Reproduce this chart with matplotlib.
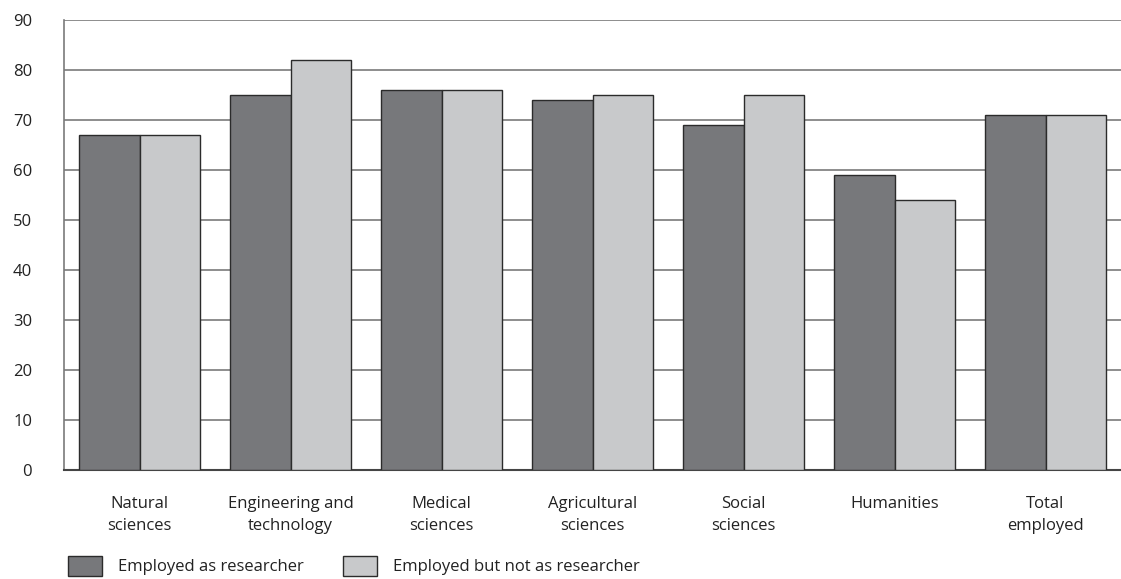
import numpy as np
import matplotlib.pyplot as plt
from matplotlib.patches import Patch

plt.rcParams['font.family'] = ['Open Sans', 'DejaVu Sans']

categories = ['Natural\nsciences', 'Engineering and\ntechnology', 'Medical\nsciences',
              'Agricultural\nsciences', 'Social\nsciences', 'Humanities', 'Total\nemployed']
researcher = [67, 75, 76, 74, 69, 59, 71]
not_researcher = [67, 82, 76, 75, 75, 54, 71]
labels = ['Employed as researcher', 'Employed but not as researcher']

dark = '#77787b'
light = '#c8c9cb'
edge = '#2b2b2b'

fig = plt.figure(figsize=(11.21, 5.79), dpi=100)
ax = fig.add_axes([0.0571, 0.1883, 0.9429, 0.7772])

x = np.arange(len(categories))
w = 0.4
ax.bar(x - w/2, researcher, w, color=dark, edgecolor=edge, linewidth=1, zorder=3)
ax.bar(x + w/2, not_researcher, w, color=light, edgecolor=edge, linewidth=1, zorder=3)

ax.set_xlim(-0.5, len(categories) - 0.5)
ax.set_ylim(0, 90)
ax.set_yticks(range(0, 91, 10))
ax.yaxis.grid(True, color='#7a7a7a', linewidth=1.2, zorder=0)
ax.set_axisbelow(True)
ax.set_xticks(x)
ax.set_xticklabels(categories, fontsize=12, color='#222222', linespacing=1.45)
ax.tick_params(axis='both', length=0, labelsize=12, labelcolor='#222222')
ax.tick_params(axis='x', pad=19)
ax.tick_params(axis='y', pad=23)

for s in ['top', 'right']:
    ax.spines[s].set_visible(False)
ax.spines['left'].set_color('#7a7a7a')
ax.spines['left'].set_linewidth(1.2)
ax.spines['bottom'].set_color('#444444')
ax.spines['bottom'].set_linewidth(1.5)

handles = [Patch(facecolor=dark, edgecolor=edge, linewidth=1),
           Patch(facecolor=light, edgecolor=edge, linewidth=1)]
fig.legend(handles, labels, loc='lower left', bbox_to_anchor=(0.047, -0.02), ncol=2,
           frameon=False, fontsize=12, handlelength=2.04, handleheight=1.4,
           handletextpad=0.95, columnspacing=2.4, labelcolor='#222222')

fig.savefig('out.png', dpi=100)
